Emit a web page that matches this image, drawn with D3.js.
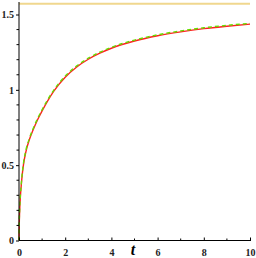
<!DOCTYPE html>
<html lang="en">
<head>
	<meta charset="UTF-8"/>
	<title>Curve plot</title>
	<script src="https://d3js.org/d3.v7.min.js"></script>
	<style>
		body { margin: 0; background: #fff; }
		text { font-family: "Liberation Serif", "DejaVu Serif", serif; }
	</style>
</head>
<body>
	<script>
		var w = 256;
		var h = 258;

		// values
		var tValues = [0, 0.01, 0.03, 0.06, 0.1, 0.15, 0.2, 0.3, 0.45, 0.6, 0.8, 1.0, 1.5, 2, 2.5, 3, 3.5, 4, 5, 6, 7, 8, 9, 10];
		var redValues = [0, 0.1, 0.2, 0.29, 0.37, 0.45, 0.51, 0.59, 0.67, 0.73, 0.8, 0.86, 0.99, 1.084, 1.152, 1.203, 1.243, 1.276, 1.324, 1.359, 1.385, 1.406, 1.422, 1.436];
		var greenValues = [0, 0.11, 0.21, 0.3, 0.38, 0.46, 0.52, 0.6, 0.678, 0.738, 0.808, 0.868, 0.997, 1.091, 1.159, 1.21, 1.25, 1.282, 1.33, 1.365, 1.391, 1.412, 1.428, 1.441];
		var asymptote = 1.5708;
		var xTicks = [0, 2, 4, 6, 8, 10];
		var xMinor = [1, 3, 5, 7, 9];
		var yTicks = [0, 0.5, 1, 1.5];
		var yMinor = [0.1, 0.2, 0.3, 0.4, 0.6, 0.7, 0.8, 0.9, 1.1, 1.2, 1.3, 1.4];

		var xScale = d3.scaleLinear().domain([0, 10]).range([19, 250]);
		var yScale = d3.scaleLinear().domain([0, 1.5]).range([240.5, 14.5]);

		var svg = d3.select("body").append("svg")
			.attr("width", w)
			.attr("height", h);

		var line = d3.line()
			.x(function(d) { return xScale(d[0]); })
			.y(function(d) { return yScale(d[1]); })
			.curve(d3.curveMonotoneX);

		// horizontal asymptote
		svg.append("line")
			.attr("x1", xScale(0)).attr("x2", xScale(10))
			.attr("y1", yScale(asymptote)).attr("y2", yScale(asymptote))
			.attr("stroke", "#f0d78e")
			.attr("stroke-width", 2);

		svg.append("path")
			.datum(d3.zip(tValues, redValues))
			.attr("d", line)
			.attr("fill", "none")
			.attr("stroke", "#ff2020")
			.attr("stroke-width", 1.4);

		svg.append("path")
			.datum(d3.zip(tValues, greenValues))
			.attr("d", line)
			.attr("fill", "none")
			.attr("stroke", "#66dd00")
			.attr("stroke-width", 1.4)
			.attr("stroke-dasharray", "4,3");

		// axes
		var xAxis = d3.axisBottom(xScale).tickValues(xTicks).tickSize(-3).tickPadding(6)
			.tickFormat(d3.format("d"));
		var gx = svg.append("g").attr("transform", "translate(0," + yScale(0) + ")").call(xAxis);
		gx.select(".domain").attr("d", "M" + xScale(0) + ",0H" + (xScale(10) + 1));
		gx.selectAll(".tick text").attr("dy", "0.9em");

		gx.selectAll(".minor")
			.data(xMinor)
			.enter()
			.append("line")
			.attr("class", "minor")
			.attr("x1", function(d) { return xScale(d); })
			.attr("x2", function(d) { return xScale(d); })
			.attr("y1", 0).attr("y2", -2)
			.attr("stroke", "#000");

		var yAxis = d3.axisLeft(yScale).tickValues(yTicks).tickSize(3).tickPadding(2)
			.tickFormat(function(d) { return d; });
		var gy = svg.append("g").attr("transform", "translate(" + xScale(0) + ",0)").call(yAxis);
		gy.select(".domain").attr("d", "M0," + yScale(0) + "V2");

		gy.selectAll(".minor")
			.data(yMinor)
			.enter()
			.append("line")
			.attr("class", "minor")
			.attr("x1", 0).attr("x2", -2.5)
			.attr("y1", function(d) { return yScale(d); })
			.attr("y2", function(d) { return yScale(d); })
			.attr("stroke", "#000");

		svg.selectAll(".tick text")
			.attr("font-family", "Liberation Serif, serif")
			.attr("font-size", 10)
			.attr("font-weight", "bold")
			.attr("fill", "#222");

		svg.append("text")
			.attr("x", 133)
			.attr("y", 255)
			.attr("text-anchor", "middle")
			.attr("font-size", 16)
			.attr("font-style", "italic")
			.attr("font-weight", "bold")
			.text("t");
	</script>
</body>
</html>
